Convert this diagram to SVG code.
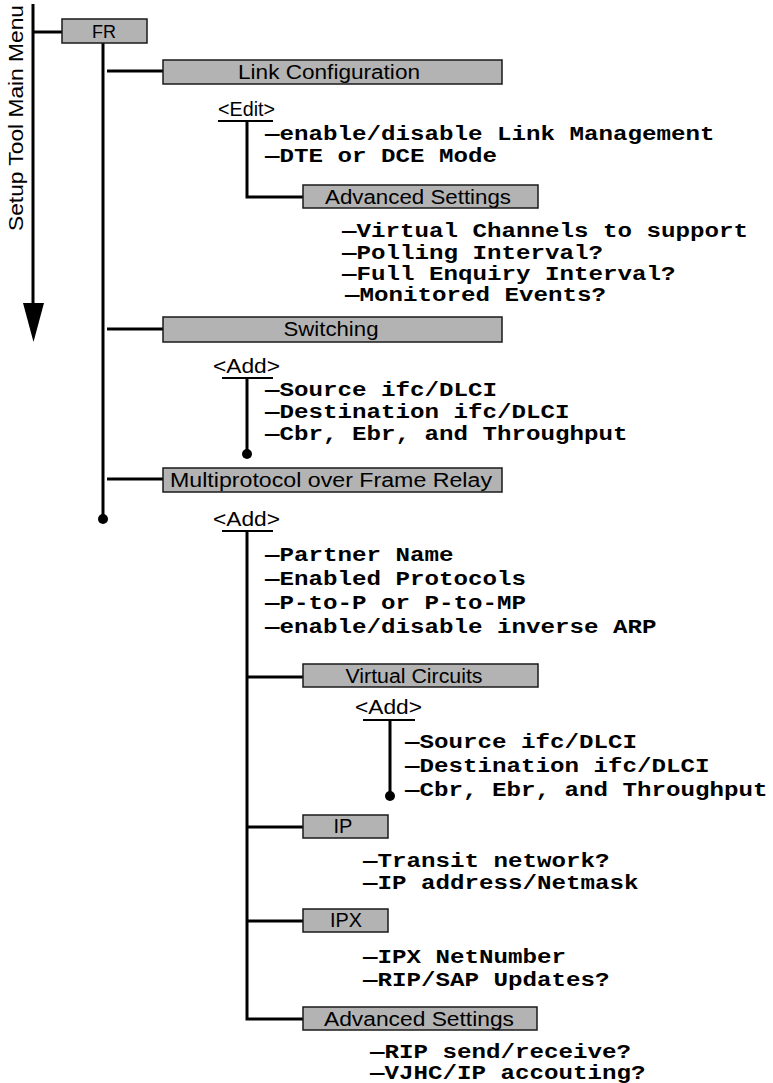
<svg xmlns="http://www.w3.org/2000/svg" width="773" height="1083" viewBox="0 0 773 1083">
<style>
.box{fill:#b3b3b3;stroke:#1a1a1a;stroke-width:1.5}
.bl{font-family:"Liberation Sans",Arial,sans-serif;font-size:20px;fill:#000;text-anchor:middle}
.op{font-family:"Liberation Sans",Arial,sans-serif;font-size:20px;fill:#000}
.it{font-family:"Liberation Mono","Courier New",monospace;font-size:20px;font-weight:bold;fill:#000}
.ln{stroke:#000;stroke-width:3;fill:none}
.ul{stroke:#000;stroke-width:2;fill:none}
</style>
<g id="connectors">
<line class="ln" x1="33" y1="4" x2="33" y2="306"/>
<polygon points="23,303 44,303 33.5,342" fill="#000"/>
<line class="ln" x1="33" y1="32" x2="62" y2="32"/>
<line class="ln" x1="103" y1="43" x2="103" y2="519"/>
<circle cx="103" cy="519" r="5" fill="#000"/>
<line class="ln" x1="107" y1="71" x2="163" y2="71"/>
<line class="ln" x1="107" y1="329" x2="163" y2="329"/>
<line class="ln" x1="107" y1="479" x2="163" y2="479"/>
<polyline class="ln" points="247,121 247,197 303,197"/>
<line class="ln" x1="247" y1="378" x2="247" y2="454"/>
<circle cx="247" cy="454" r="5" fill="#000"/>
<polyline class="ln" points="247,531 247,1019 303,1019"/>
<line class="ln" x1="247" y1="677" x2="303" y2="677"/>
<line class="ln" x1="247" y1="827" x2="303" y2="827"/>
<line class="ln" x1="247" y1="921" x2="303" y2="921"/>
<line class="ln" x1="390" y1="720" x2="390" y2="796"/>
<circle cx="390" cy="796" r="5" fill="#000"/>
</g>
<g id="main-menu">
<text class="op" transform="translate(23,118) rotate(-90)" text-anchor="middle" textLength="226" lengthAdjust="spacingAndGlyphs">Setup Tool Main Menu</text>
</g>
<g id="fr">
<rect class="box" x="62" y="19" width="85" height="24"/>
<text class="bl" x="104" y="38" style="font-size:18px">FR</text>
</g>
<g id="link-config">
<rect class="box" x="163" y="60" width="339" height="24"/>
<text class="bl" x="329" y="79" textLength="182" lengthAdjust="spacingAndGlyphs">Link Configuration</text>
</g>
<g id="edit1">
<text class="op" x="218" y="116" textLength="57" lengthAdjust="spacingAndGlyphs">&lt;Edit&gt;</text>
<line class="ul" x1="218" y1="121" x2="273" y2="121"/>
<text class="it" x="265" y="140" textLength="449.5" lengthAdjust="spacingAndGlyphs">—enable/disable Link Management</text>
<text class="it" x="265" y="162" textLength="232" lengthAdjust="spacingAndGlyphs">—DTE or DCE Mode</text>
</g>
<g id="adv1">
<rect class="box" x="303" y="185" width="235" height="23"/>
<text class="bl" x="418" y="204" textLength="186" lengthAdjust="spacingAndGlyphs">Advanced Settings</text>
<text class="it" x="342" y="237" textLength="406" lengthAdjust="spacingAndGlyphs">—Virtual Channels to support</text>
<text class="it" x="342" y="259" textLength="261" lengthAdjust="spacingAndGlyphs">—Polling Interval?</text>
<text class="it" x="342" y="280" textLength="333.5" lengthAdjust="spacingAndGlyphs">—Full Enquiry Interval?</text>
<text class="it" x="345" y="301" textLength="261" lengthAdjust="spacingAndGlyphs">—Monitored Events?</text>
</g>
<g id="switching">
<rect class="box" x="163" y="317" width="339" height="25"/>
<text class="bl" x="331" y="336" textLength="95" lengthAdjust="spacingAndGlyphs">Switching</text>
<text class="op" x="213" y="373" textLength="67" lengthAdjust="spacingAndGlyphs">&lt;Add&gt;</text>
<line class="ul" x1="222" y1="378" x2="273" y2="378"/>
<text class="it" x="265" y="396" textLength="232" lengthAdjust="spacingAndGlyphs">—Source ifc/DLCI</text>
<text class="it" x="265" y="418" textLength="304.5" lengthAdjust="spacingAndGlyphs">—Destination ifc/DLCI</text>
<text class="it" x="265" y="440" textLength="362.5" lengthAdjust="spacingAndGlyphs">—Cbr, Ebr, and Throughput</text>
</g>
<g id="mpfr">
<rect class="box" x="163" y="468" width="339" height="24"/>
<text class="bl" x="331" y="487" textLength="322" lengthAdjust="spacingAndGlyphs">Multiprotocol over Frame Relay</text>
<text class="op" x="213" y="526" textLength="67" lengthAdjust="spacingAndGlyphs">&lt;Add&gt;</text>
<line class="ul" x1="222" y1="531" x2="273" y2="531"/>
<text class="it" x="265" y="561" textLength="188.5" lengthAdjust="spacingAndGlyphs">—Partner Name</text>
<text class="it" x="265" y="585" textLength="261" lengthAdjust="spacingAndGlyphs">—Enabled Protocols</text>
<text class="it" x="265" y="609" textLength="261" lengthAdjust="spacingAndGlyphs">—P-to-P or P-to-MP</text>
<text class="it" x="265" y="633" textLength="391.5" lengthAdjust="spacingAndGlyphs">—enable/disable inverse ARP</text>
</g>
<g id="virtual-circuits">
<rect class="box" x="303" y="664" width="235" height="23"/>
<text class="bl" x="414" y="683" textLength="137" lengthAdjust="spacingAndGlyphs">Virtual Circuits</text>
<text class="op" x="355" y="714" textLength="67" lengthAdjust="spacingAndGlyphs">&lt;Add&gt;</text>
<line class="ul" x1="363" y1="720" x2="415" y2="720"/>
<text class="it" x="405" y="748" textLength="232" lengthAdjust="spacingAndGlyphs">—Source ifc/DLCI</text>
<text class="it" x="405" y="772" textLength="304.5" lengthAdjust="spacingAndGlyphs">—Destination ifc/DLCI</text>
<text class="it" x="405" y="796" textLength="362.5" lengthAdjust="spacingAndGlyphs">—Cbr, Ebr, and Throughput</text>
</g>
<g id="ip">
<rect class="box" x="303" y="815" width="85" height="23"/>
<text class="bl" x="343" y="833">IP</text>
<text class="it" x="363" y="867" textLength="246.5" lengthAdjust="spacingAndGlyphs">—Transit network?</text>
<text class="it" x="363" y="889" textLength="275.5" lengthAdjust="spacingAndGlyphs">—IP address/Netmask</text>
</g>
<g id="ipx">
<rect class="box" x="303" y="909" width="85" height="23"/>
<text class="bl" x="346" y="927" textLength="32" lengthAdjust="spacingAndGlyphs">IPX</text>
<text class="it" x="363" y="963" textLength="203" lengthAdjust="spacingAndGlyphs">—IPX NetNumber</text>
<text class="it" x="363" y="986" textLength="246.5" lengthAdjust="spacingAndGlyphs">—RIP/SAP Updates?</text>
</g>
<g id="adv2">
<rect class="box" x="303" y="1007" width="234" height="23"/>
<text class="bl" x="419" y="1026" textLength="190" lengthAdjust="spacingAndGlyphs">Advanced Settings</text>
<text class="it" x="370" y="1058" textLength="261" lengthAdjust="spacingAndGlyphs">—RIP send/receive?</text>
<text class="it" x="370" y="1079" textLength="275.5" lengthAdjust="spacingAndGlyphs">—VJHC/IP accouting?</text>
</g>
</svg>
